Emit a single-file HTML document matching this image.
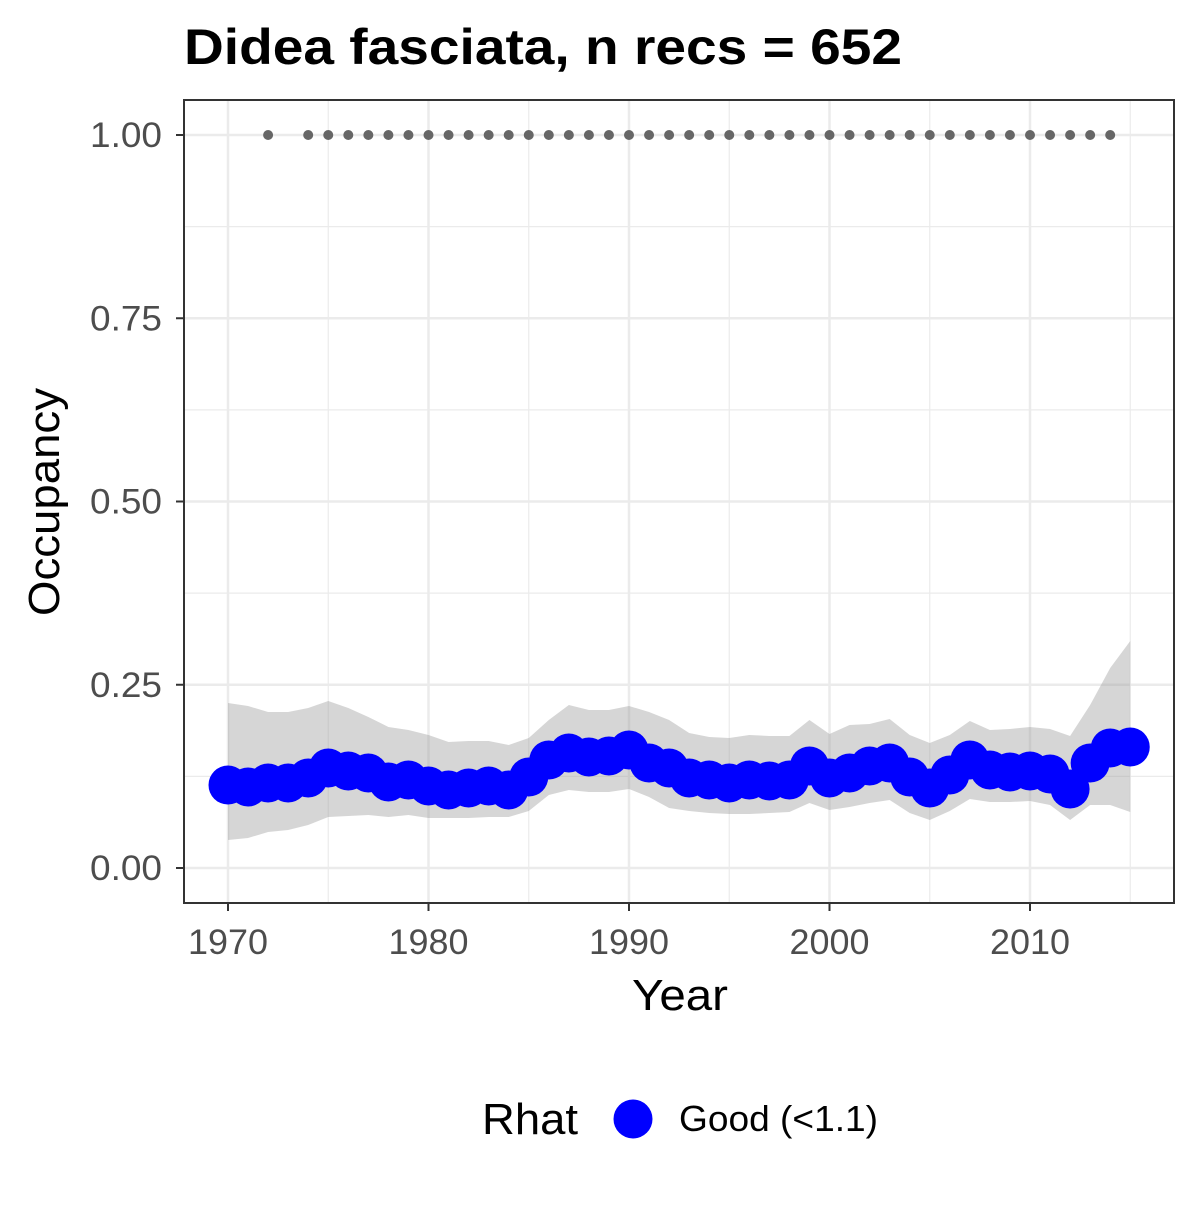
<!DOCTYPE html>
<html><head><meta charset="utf-8"><style>
body{margin:0;background:#fff}
svg{font-family:"Liberation Sans",Arial,sans-serif}
</style></head><body>
<svg width="1200" height="1200" xmlns="http://www.w3.org/2000/svg">
<g id="chart"></g>
</svg>
<script>
const years=[1970,1971,1972,1973,1974,1975,1976,1977,1978,1979,1980,1981,1982,1983,1984,1985,1986,1987,1988,1989,1990,1991,1992,1993,1994,1995,1996,1997,1998,1999,2000,2001,2002,2003,2004,2005,2006,2007,2008,2009,2010,2011,2012,2013,2014,2015];
const meanPx=[785,787,783,783,778,768,771,773,782,780,786,790,788,786,790,777,760,753,757,756,750,763,768,778,780,783,780,781,780,766,778,773,766,763,777,788,775,760,770,772,771,774,789,763,748,747];
const upperPx=[703,706,712,712,708,701,708,717,727,730,735,742,741,741,745,738,720,705,710,710,706,712,720,733,737,738,735,736,736,720,734,725,724,719,735,743,735,721,730,729,727,729,736,705,668,641];
const lowerPx=[840,838,832,830,825,817,816,815,817,815,818,818,818,817,817,811,795,790,792,792,789,797,808,811,813,814,814,813,812,803,810,807,803,800,813,820,811,799,802,802,801,805,820,805,805,812];
const toV=p=>+((868-p)/733).toFixed(4);
const mean=meanPx.map(toV), upper=upperPx.map(toV), lower=lowerPx.map(toV);
const recYears=[1972].concat(Array.from({length:41},(_,i)=>1974+i));
const xTicks=[1970,1980,1990,2000,2010];
const yTicks=[0,0.25,0.5,0.75,1];
const yLabels=["0.00","0.25","0.50","0.75","1.00"];

const X=y=>228+(y-1970)*20.05;
const Y=v=>868-v*733;
const NS="http://www.w3.org/2000/svg";
const g=document.getElementById('chart');
function mk(t,a,p){const e=document.createElementNS(NS,t);for(const k in a)e.setAttribute(k,a[k]);(p||g).appendChild(e);return e;}
const L=184,R=1174,T=100,B=903;
const bg=mk('rect',{x:L,y:T,width:R-L,height:B-T,fill:'#fff'});


[0.125,0.375,0.625,0.875].forEach(v=>{mk('line',{x1:L,x2:R,y1:Y(v),y2:Y(v),stroke:'#ebebeb','stroke-width':1.2});});
[1975,1985,1995,2005,2015].forEach(v=>{mk('line',{x1:X(v),x2:X(v),y1:T,y2:B,stroke:'#ebebeb','stroke-width':1.2});});
yTicks.forEach(v=>{const l=mk('line',{x1:L,x2:R,y1:Y(v),y2:Y(v),stroke:'#ebebeb','stroke-width':2.5});});
xTicks.forEach(v=>{const l=mk('line',{x1:X(v),x2:X(v),y1:T,y2:B,stroke:'#ebebeb','stroke-width':2.5});});
let d='M'+years.map((y,i)=>X(y)+','+Y(upper[i])).join('L')+'L'+years.slice().reverse().map((y,j)=>{const i=years.length-1-j;return X(y)+','+Y(lower[i]);}).join('L')+'Z';
const band=mk('path',{d:d,fill:'#999','fill-opacity':0.4});


recYears.forEach(y=>{const c=mk('circle',{cx:X(y),cy:Y(1),r:5,fill:'#666'});});
years.forEach((y,i)=>{const c=mk('circle',{cx:X(y),cy:Y(mean[i]),r:19.5,fill:'#0000ff'});});
const fr=mk('rect',{x:L,y:T,width:R-L,height:B-T,fill:'none',stroke:'#333','stroke-width':2});


const ADJ='spacingAndGlyphs';
yTicks.forEach((v,i)=>{mk('line',{x1:L-8,x2:L,y1:Y(v),y2:Y(v),stroke:'#333','stroke-width':2});
const t=mk('text',{x:L-22,y:Y(v)+12,'text-anchor':'end','font-size':35,fill:'#4d4d4d',textLength:72,lengthAdjust:ADJ});t.textContent=yLabels[i];});
xTicks.forEach(v=>{mk('line',{x1:X(v),x2:X(v),y1:B,y2:B+8,stroke:'#333','stroke-width':2});
const t=mk('text',{x:X(v),y:B+51,'text-anchor':'middle','font-size':35,fill:'#4d4d4d',textLength:80,lengthAdjust:ADJ});t.textContent=v;});
function txt(s,a,name){const t=mk('text',a);t.textContent=s;return t;}
txt('Didea fasciata, n recs = 652',{x:184,y:64,'font-size':50,'font-weight':'bold',fill:'#000',textLength:718,lengthAdjust:ADJ},'chart-title');
txt('Year',{x:632,y:1010,'font-size':44,fill:'#000',textLength:96,lengthAdjust:ADJ},'x-axis-title');
txt('Occupancy',{x:0,y:0,transform:'translate(59,502) rotate(-90)','text-anchor':'middle','font-size':44,fill:'#000',textLength:228,lengthAdjust:ADJ},'y-axis-title');
txt('Rhat',{x:482,y:1134,'font-size':44,fill:'#000',textLength:96,lengthAdjust:ADJ},'legend-title');
const lk=mk('circle',{cx:633,cy:1119,r:19.5,fill:'#0000ff'});


txt('Good (<1.1)',{x:679,y:1131,'font-size':36,fill:'#000',textLength:199,lengthAdjust:ADJ},'legend-label-good');
</script>
</body></html>
